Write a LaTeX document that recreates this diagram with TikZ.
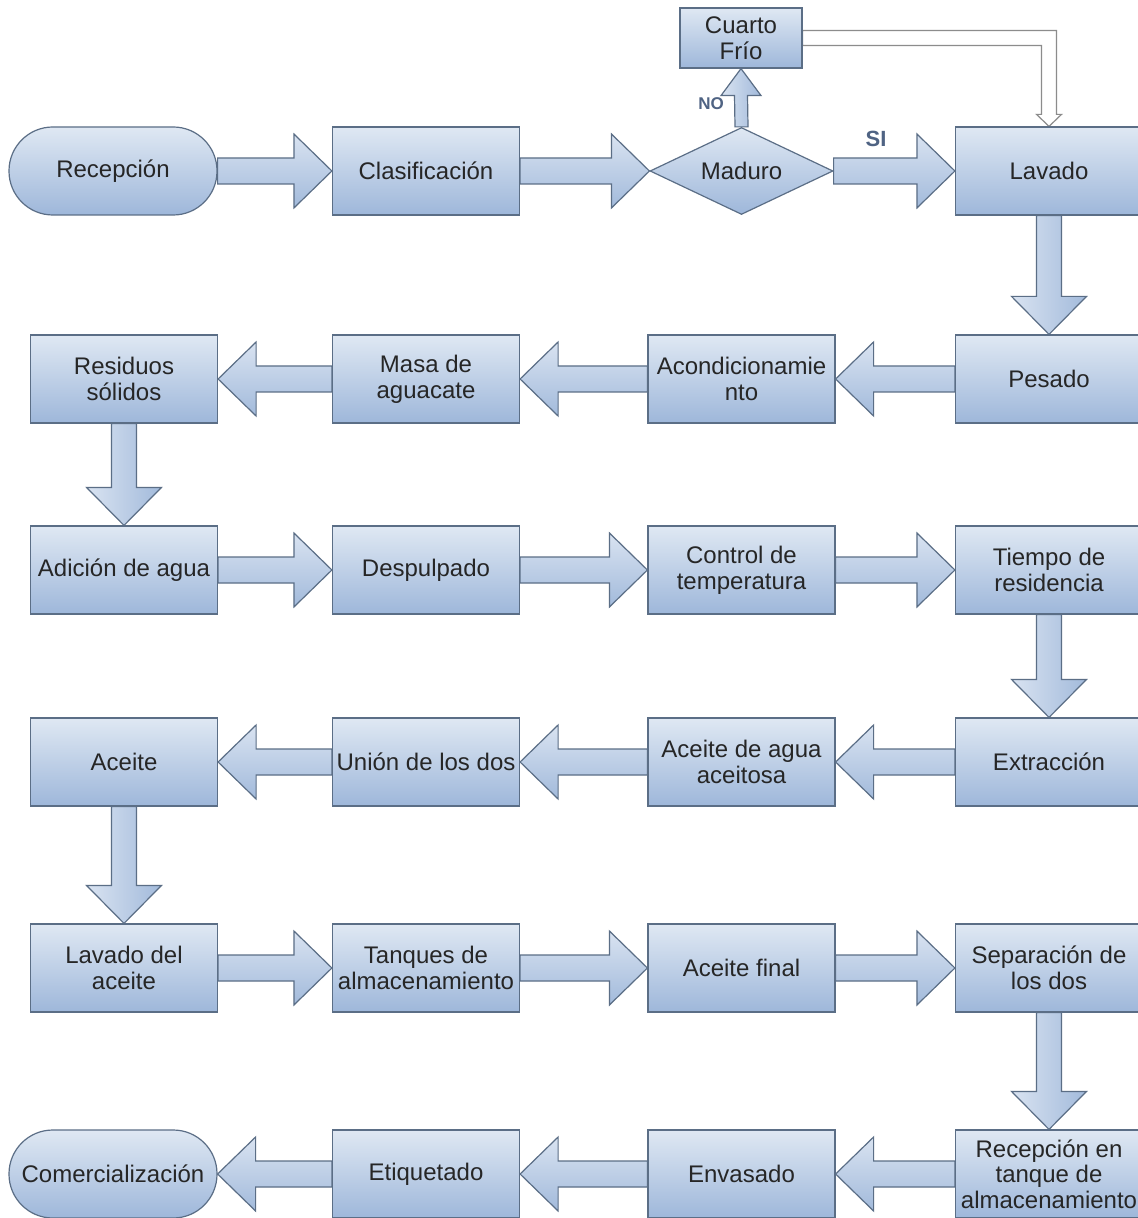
\documentclass[tikz,border=0pt]{standalone}
\usepackage{fontspec}
\setmainfont{Liberation Sans}
\usetikzlibrary{calc,shapes.geometric,backgrounds}
\definecolor{boxtop}{HTML}{DFE8F3}
\definecolor{boxbot}{HTML}{9EB7DA}
\definecolor{boxline}{HTML}{5B6E86}
\definecolor{boxtext}{HTML}{262626}
\definecolor{arrtop}{HTML}{D9E3F1}
\definecolor{arrbot}{HTML}{A2BADB}
\definecolor{hollowline}{HTML}{8C8C8C}
\definecolor{labtext}{HTML}{4F6383}

\tikzset{
  procbox/.style={draw=boxline, line width=0.6pt, top color=boxtop, bottom color=boxbot,
    minimum width=93.5pt, minimum height=44pt, align=center, inner sep=1pt, text=boxtext},
  termbox/.style={procbox, rounded corners=21.9pt, minimum width=104pt},
  decbox/.style={procbox, diamond, aspect=2.1, minimum width=91.5pt, minimum height=43.5pt, inner sep=0pt},
  harrow/.style={draw=boxline, line width=0.6pt, top color=arrtop, bottom color=arrbot},
  varrow/.style={draw=boxline, line width=0.6pt, left color=arrtop, right color=arrbot},
  hollowarrow/.style={draw=hollowline, line width=0.6pt, fill=white},
  choice/.style={font=\fontsize{8.5}{9}\selectfont\bfseries, text=labtext}
}

% block arrows between two nodes
\newcommand{\flowright}[2]{%
  \path[harrow] ($(#1.east)+(0,-13)$) -- ($(#2.west)+(-38,-13)$) -- ($(#2.west)+(-38,-37)$)
    -- (#2.west) -- ($(#2.west)+(-38,37)$) -- ($(#2.west)+(-38,13)$) -- ($(#1.east)+(0,13)$) -- cycle;}
\newcommand{\flowleft}[2]{%
  \path[harrow] ($(#1.west)+(0,-13)$) -- ($(#2.east)+(38,-13)$) -- ($(#2.east)+(38,-37)$)
    -- (#2.east) -- ($(#2.east)+(38,37)$) -- ($(#2.east)+(38,13)$) -- ($(#1.west)+(0,13)$) -- cycle;}
\newcommand{\flowdown}[2]{%
  \path[varrow] ($(#1.south)+(-12.5,0)$) -- ($(#2.north)+(-12.5,-38)$) -- ($(#2.north)+(-37.5,-38)$)
    -- (#2.north) -- ($(#2.north)+(37.5,-38)$) -- ($(#2.north)+(12.5,-38)$) -- ($(#1.south)+(12.5,0)$) -- cycle;}

\begin{document}
\begin{tikzpicture}[x=0.5pt, y=-0.5pt, every node/.style={font=\fontsize{12}{12.8}\selectfont}]
  \useasboundingbox (0,0) rectangle (1137,1218);

  % Row 1
  \node[termbox] (recepcion) at (113,171) {Recepción};
  \node[procbox] (clasif) at (426,171) {Clasificación};
  \node[decbox] (maduro) at (741.5,171) {Maduro};
  \node[procbox, minimum width=61pt, minimum height=30pt] (cuarto) at (741,38) {Cuarto\\Frío};
  \node[procbox] (lavado) at (1049,171) {Lavado};

  % Row 2
  \node[procbox] (pesado) at (1049,379) {Pesado};
  \node[procbox] (acond) at (741.5,379) {Acondicionamie\\nto};
  \node[procbox] (masa) at (426,379) {Masa de\\aguacate};
  \node[procbox] (residuos) at (124,379) {Residuos\\sólidos};

  % Row 3
  \node[procbox] (adicion) at (124,570) {Adición de agua};
  \node[procbox] (despulp) at (426,570) {Despulpado};
  \node[procbox] (control) at (741.5,570) {Control de\\temperatura};
  \node[procbox] (tiempo) at (1049,570) {Tiempo de\\residencia};

  % Row 4
  \node[procbox] (extrac) at (1049,762) {Extracción};
  \node[procbox] (aceiteagua) at (741.5,762) {Aceite de agua\\aceitosa};
  \node[procbox] (union) at (426,762) {Unión de los dos};
  \node[procbox] (aceite) at (124,762) {Aceite};

  % Row 5
  \node[procbox] (lavaceite) at (124,968) {Lavado del\\aceite};
  \node[procbox] (tanques) at (426,968) {Tanques de\\almacenamiento};
  \node[procbox] (acfinal) at (741.5,968) {Aceite final};
  \node[procbox] (separ) at (1049,968) {Separación de\\los dos};

  % Row 6
  \node[procbox] (receptanque) at (1049,1174) {Recepción en\\tanque de\\almacenamiento};
  \node[procbox] (envasado) at (741.5,1174) {Envasado};
  \node[procbox] (etiq) at (426,1174) {Etiquetado};
  \node[termbox] (comerc) at (113,1174) {Comercialización};

  % Choice labels
  \node[choice] (nolab) at (711,104) {NO};
  \node[choice, font=\fontsize{11}{12}\selectfont\bfseries] (silab) at (876,139) {SI};

  % Arrows
  \begin{scope}[on background layer]
    \fill[white] (0,0) rectangle (1137,1218);
    \flowright{recepcion}{clasif}
    \flowright{clasif}{maduro}
    \flowright{maduro}{lavado}
    \path[varrow] ($(maduro.north)+(-6.5,0)$) -- ($(cuarto.south)+(-6.5,27)$) -- ($(cuarto.south)+(-20,27)$)
      -- (cuarto.south) -- ($(cuarto.south)+(20,27)$) -- ($(cuarto.south)+(6.5,27)$) -- ($(maduro.north)+(6.5,0)$) -- cycle;
    \path[hollowarrow] ($(cuarto.east)+(0,-7.5)$) -- ($(lavado.north |- cuarto.east)+(7.5,-7.5)$)
      -- ($(lavado.north)+(7.5,-12)$) -- ($(lavado.north)+(12.5,-12)$) -- (lavado.north)
      -- ($(lavado.north)+(-12.5,-12)$) -- ($(lavado.north)+(-7.5,-12)$)
      -- ($(lavado.north |- cuarto.east)+(-7.5,7.5)$) -- ($(cuarto.east)+(0,7.5)$) -- cycle;
    \flowdown{lavado}{pesado}
    \flowleft{pesado}{acond}
    \flowleft{acond}{masa}
    \flowleft{masa}{residuos}
    \flowdown{residuos}{adicion}
    \flowright{adicion}{despulp}
    \flowright{despulp}{control}
    \flowright{control}{tiempo}
    \flowdown{tiempo}{extrac}
    \flowleft{extrac}{aceiteagua}
    \flowleft{aceiteagua}{union}
    \flowleft{union}{aceite}
    \flowdown{aceite}{lavaceite}
    \flowright{lavaceite}{tanques}
    \flowright{tanques}{acfinal}
    \flowright{acfinal}{separ}
    \flowdown{separ}{receptanque}
    \flowleft{receptanque}{envasado}
    \flowleft{envasado}{etiq}
    \flowleft{etiq}{comerc}
  \end{scope}
\end{tikzpicture}
\end{document}
